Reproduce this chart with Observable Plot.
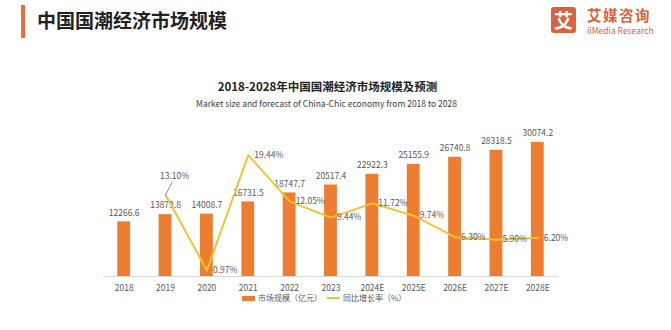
<!DOCTYPE html>
<html><head><meta charset="utf-8">
<script src="https://cdn.jsdelivr.net/npm/d3@7"></script>
<script src="https://cdn.jsdelivr.net/npm/@observablehq/plot@0.6"></script>
<style>
html,body{margin:0;padding:0;background:#fff;}
body{width:671px;height:330px;position:relative;overflow:hidden;font-family:"Noto Sans CJK SC","Noto Sans",sans-serif;}
.abs{position:absolute;white-space:nowrap;}
</style>
</head><body>
<div class="abs" style="left:21px;top:5px;width:4px;height:33px;background:#EE6B3B;"></div>
<div class="abs" style="left:37px;top:8px;font-size:19px;line-height:24px;font-weight:bold;color:#222;">中国国潮经济市场规模</div>
<div class="abs" style="left:551px;top:7px;width:25px;height:26px;border-radius:3px;background:#D9623F;color:#fff;font-size:19px;font-weight:bold;line-height:26px;text-align:center;">艾</div>
<div class="abs" style="left:587px;top:6px;font-size:14.5px;line-height:17px;color:#D9623F;font-weight:bold;letter-spacing:1.5px;">艾媒咨询</div>
<div class="abs" style="left:587px;top:25px;font-size:8.5px;line-height:10px;color:#D9623F;">iiMedia Research</div>
<div class="abs" style="left:0;width:655px;top:78px;text-align:center;font-size:11.5px;line-height:16px;font-weight:bold;color:#222;">2018-2028年中国国潮经济市场规模及预测</div>
<div class="abs" style="left:0;width:653px;top:97px;text-align:center;font-size:8.5px;line-height:12px;color:#404040;">Market size and forecast of China-Chic economy from 2018 to 2028</div>
<div id="chart" class="abs" style="left:0;top:120px;"></div>
<div class="abs" style="left:242px;top:296px;width:13px;height:5px;background:#ED7D31;"></div>
<div class="abs" id="lg1" style="left:258px;top:292px;font-size:8px;line-height:12px;color:#595959;">市场规模（亿元）</div>
<div class="abs" style="left:327px;top:297px;width:13px;height:2px;background:#F5C232;"></div>
<div class="abs" id="lg2" style="left:343px;top:292px;font-size:8px;line-height:12px;color:#595959;">同比增长率（%）</div>
<script>
const years = ["2018","2019","2020","2021","2022","2023","2024E","2025E","2026E","2027E","2028E"];
const sizes = [12266.6, 13873.8, 14008.7, 16731.5, 18747.7, 20517.4, 22922.3, 25155.9, 26740.8, 28318.5, 30074.2];
const rates = [null, 13.10, 0.97, 19.44, 12.05, 9.44, 11.72, 9.74, 6.30, 5.90, 6.20];

const k = 1400; // secondary axis ratio: 1% of growth rate = 1400 units on the bar scale
const data = years.map((y, i) => ({year: y, size: sizes[i], rate: rates[i]}));
const rateData = data.filter(d => d.rate != null);
const font = "Noto Sans CJK SC";

const chart = Plot.plot({
  width: 671, height: 180,
  marginLeft: 103, marginRight: 113, marginTop: 0, marginBottom: 24,
  style: {fontFamily: font, background: "transparent"},
  x: {domain: years, paddingInner: 0.69, paddingOuter: 0.345, round: false, label: null},
  y: {domain: [0, 35000], axis: null},
  marks: [
    Plot.barY(data, {x: "year", y: "size", fill: "#ED7D31"}),
    Plot.ruleY([0], {stroke: "#D9D9D9", strokeWidth: 1}),
    Plot.axisX({tickSize: 0, tickPadding: 8, fontSize: 8.5, fill: "#595959", fontFamily: font}),
    Plot.text(data, {x: "year", y: "size", text: d => d.size.toFixed(1), dy: -9, fontSize: 8.5, fill: "#595959"}),
    Plot.line(rateData, {x: "year", y: d => d.rate * k, stroke: "#F5C232", strokeWidth: 2}),
    Plot.vector(rateData.filter(d => d.year === "2019"), {x: "year", y: d => d.rate * k, length: 14, rotate: 28, shape: "spike", r: 0.3, stroke: "#A6A6A6", strokeWidth: 0.8, fill: "none", anchor: "start"}),
    Plot.text(rateData.filter(d => d.year === "2019"), {x: "year", y: d => d.rate * k, text: d => d.rate.toFixed(2) + "%", dx: 9, dy: -18, fontSize: 8.5, fill: "#595959"}),
    Plot.text(rateData.filter(d => d.year !== "2019"), {x: "year", y: d => d.rate * k, text: d => d.rate.toFixed(2) + "%", dx: 6, textAnchor: "start", fontSize: 8.5, fill: "#595959"})
  ]
});
document.getElementById("chart").appendChild(chart);
</script>
</body></html>
